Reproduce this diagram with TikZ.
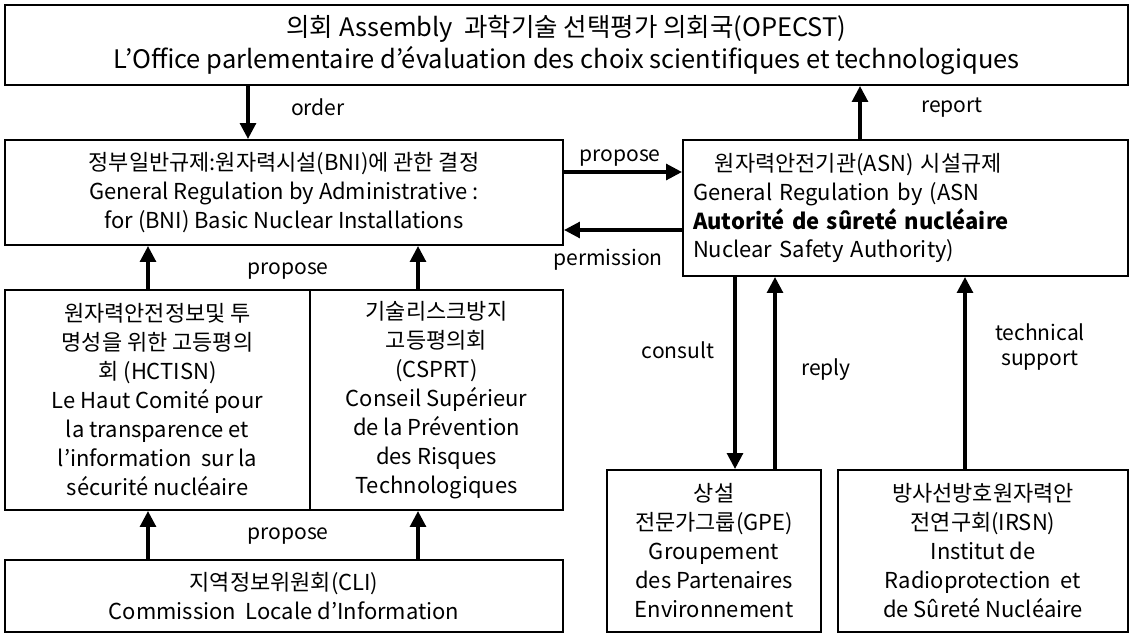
\documentclass[tikz,border=0pt]{standalone}
\usepackage{fontspec}
\setmainfont{Noto Sans CJK KR}
\usetikzlibrary{arrows.meta}

\tikzset{
  box/.style={draw, line width=1.2pt, align=center, inner sep=0pt},
  arr/.style={line width=1.8pt, -{Triangle[width=9pt,length=9pt]}},
  lab/.style={font=\fontsize{12}{14}\selectfont, align=center}
}

\begin{document}
\begin{tikzpicture}[x=0.02cm, y=-0.02cm, font=\fontsize{12.5}{16.5}\selectfont]
    \useasboundingbox (0,0) rectangle (1136,642);

    % Boxes
    \node[box, minimum width=1123*0.02cm, minimum height=80*0.02cm, font=\fontsize{14.5}{18}\selectfont] (op) at (566.5,45)
        {의회 Assembly \ 과학기술 선택평가 의회국(OPECST)\\L'Office parlementaire d'évaluation des choix scientifiques et technologiques};
    \node[box, minimum width=558*0.02cm, minimum height=105*0.02cm] (bni) at (284,192.5)
        {정부일반규제:원자력시설(BNI)에 관한 결정\\General Regulation by Administrative :\\for (BNI) Basic Nuclear Installations};
    \node[box, minimum width=445*0.02cm, minimum height=136*0.02cm, align=left, text width=425*0.02cm] (asn) at (905.5,208)
        {\hspace*{1em}원자력안전기관(ASN) 시설규제\\General Regulation by (ASN\\\textbf{Autorité de sûreté nucléaire}\\Nuclear Safety Authority)};
    \node[box, minimum width=305*0.02cm, minimum height=220*0.02cm] (hct) at (157.5,400)
        {원자력안전정보및 투\\명성을 위한 고등평의\\회 (HCTISN)\\Le Haut Comité pour\\la transparence et\\l'information \ sur la\\sécurité nucléaire};
    \node[box, minimum width=253*0.02cm, minimum height=220*0.02cm] (csp) at (436.5,400)
        {기술리스크방지\\고등평의회\\(CSPRT)\\Conseil Supérieur\\de la Prévention\\des Risques\\Technologiques};
    \node[box, minimum width=558*0.02cm, minimum height=72*0.02cm] (cli) at (284,596)
        {지역정보위원회(CLI)\\Commission \ Locale d'Information};
    \node[box, minimum width=214*0.02cm, minimum height=162*0.02cm] (gpe) at (714,551)
        {상설\\전문가그룹(GPE)\\Groupement\\des Partenaires\\Environnement};
    \node[box, minimum width=290*0.02cm, minimum height=162*0.02cm] (irsn) at (983,551)
        {방사선방호원자력안\\전연구회(IRSN)\\Institut de\\Radioprotection \ et\\de Sûreté Nucléaire};

    % Connectors
    \draw[arr] (op.south -| 248,0) -- (bni.north -| 248,0);
    \node[lab] (ord) at (318,107) {order};
    \draw[arr] (asn.north -| 860,0) -- (op.south -| 860,0);
    \node[lab] (rep) at (952,108) {report};
    \draw[arr] (bni.east |- 0,172) -- (asn.west |- 0,172);
    \node[lab] (pr1) at (620,158) {propose};
    \draw[arr] (asn.west |- 0,230) -- (bni.east |- 0,230);
    \node[lab] (perm) at (608,260) {permission};

    \draw[arr] (hct.north -| 148,0) -- (bni.south -| 148,0);
    \draw[arr] (csp.north -| 418,0) -- (bni.south -| 418,0);
    \node[lab] (pr2) at (288,271) {propose};
    \draw[arr] (cli.north -| 148,0) -- (hct.south -| 148,0);
    \draw[arr] (cli.north -| 418,0) -- (csp.south -| 418,0);
    \node[lab] (pr3) at (288,536) {propose};

    \draw[arr] (asn.south -| 735,0) -- (gpe.north -| 735,0);
    \node[lab] (cons) at (678,350) {consult};
    \draw[arr] (gpe.north -| 775,0) -- (asn.south -| 775,0);
    \node[lab] (repl) at (826,370) {reply};
    \draw[arr] (irsn.north -| 965,0) -- (asn.south -| 965,0);
    \node[lab] (tech) at (1040,347) {technical\\support};
\end{tikzpicture}
\end{document}
